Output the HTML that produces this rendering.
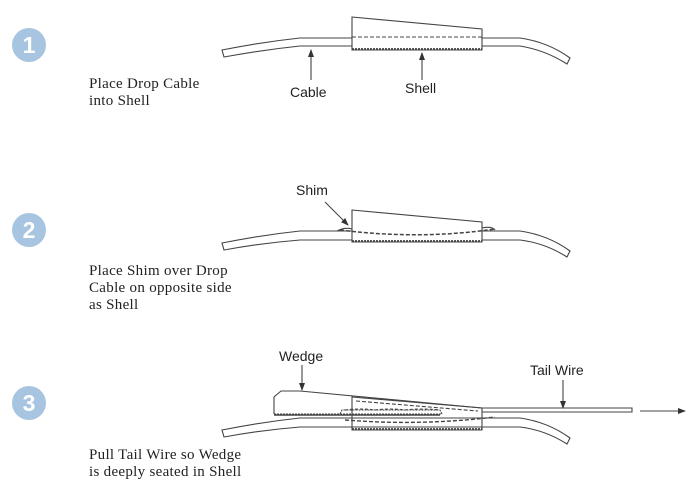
<!DOCTYPE html>
<html><head><meta charset="utf-8"><style>
body{margin:0;background:#fff;width:699px;height:491px;overflow:hidden}
svg{display:block}
text{stroke:none}
.s{font-family:"Liberation Serif",serif;font-size:15px;letter-spacing:0.3px;fill:#222}
.l{font-family:"Liberation Sans",sans-serif;font-size:14px;fill:#222}
.n{font-family:"Liberation Sans",sans-serif;font-size:23px;font-weight:bold;fill:#fff}
</style></head><body>
<svg width="699" height="491" viewBox="0 0 699 491" fill="none" stroke="#444" stroke-width="1.1">
<defs><marker id="a" markerWidth="8" markerHeight="8" refX="7" refY="4" orient="auto" markerUnits="userSpaceOnUse"><path d="M0,1 L8,4 L0,7z" fill="#333" stroke="none"/></marker></defs>
<g stroke="none" fill="#a7c4e0"><circle cx="29" cy="45" r="17"/><circle cx="29" cy="230" r="17"/><circle cx="29" cy="403" r="17"/></g>
<text class="n" x="29" y="53" text-anchor="middle">1</text>
<text class="n" x="29" y="238" text-anchor="middle">2</text>
<text class="n" x="29" y="411" text-anchor="middle">3</text>
<text class="s" x="89" y="88">Place Drop Cable</text><text class="s" x="89" y="105">into Shell</text>
<text class="s" x="89" y="275">Place Shim over Drop</text><text class="s" x="89" y="292">Cable on opposite side</text><text class="s" x="89" y="309">as Shell</text>
<text class="s" x="89" y="459">Pull Tail Wire so Wedge</text><text class="s" x="89" y="476">is deeply seated in Shell</text>

<path d="M222,50 Q262,42 300,38 L520,38 Q548,42 570,58 L567,64 Q545,50 520,46 L300,46 Q262,50 224,57 Z"/>
<path d="M352,17 L482,29 L482,50 L352,50 Z" fill="#fff"/>
<path d="M352,37 L482,37" stroke-dasharray="4,2"/>
<path d="M352,49 L482,49" stroke-dasharray="2,1" stroke-width="1.8"/>
<path d="M311,80 L311,50" marker-end="url(#a)"/>
<path d="M422,80 L422,53" marker-end="url(#a)"/>
<text class="l" x="290" y="97">Cable</text><text class="l" x="405" y="93">Shell</text>

<path d="M222,243 Q262,235 300,231 L520,231 Q548,235 570,251 L567,257 Q545,243 520,240 L300,240 Q262,243 224,250 Z"/>
<path d="M352,210 L482,222 L482,242 L352,242 Z" fill="#fff"/>
<path d="M352,241 L482,241" stroke-dasharray="2,1" stroke-width="1.8"/>
<path d="M340,230 Q420,240 495,229" stroke-dasharray="4,2" stroke-width="1.5"/>
<path d="M337,231 Q345,227 352,229 M482,228 Q492,226 495,230"/>
<path d="M325,202 L348,225" marker-end="url(#a)"/>
<text class="l" x="296" y="195">Shim</text>

<path d="M222,430 Q262,422 300,418 L520,418 Q548,422 570,438 L567,444 Q545,430 520,427 L300,427 Q262,430 224,437 Z"/>
<path d="M274,414 L274,397 L281,391 L300,391 L482,408" fill="#fff"/>
<path d="M274,414 L442,414 L440,410 L342,410 L340,414" stroke-dasharray="2,1"/>
<path d="M274,415 L440,415" stroke-width="1.5"/>
<path d="M352,397 L482,408 L482,430 L352,430 Z"/>
<path d="M356,401 L478,411" stroke-dasharray="4,2"/>
<path d="M352,429 L482,429" stroke-dasharray="2,1" stroke-width="1.8"/>
<path d="M345,420 Q420,426 495,417" stroke-dasharray="4,2" stroke-width="1.4"/>
<path d="M345,410 Q360,408 375,410 Q390,408 405,410 Q420,408 440,410" stroke-dasharray="3,2"/>
<path d="M482,408 L632,408 L632,412 L482,412"/>
<path d="M640,411 L685,411" marker-end="url(#a)"/>
<path d="M302,365 L302,390" marker-end="url(#a)"/>
<path d="M563,380 L563,408" marker-end="url(#a)"/>
<text class="l" x="279" y="361">Wedge</text><text class="l" x="530" y="375">Tail Wire</text>
</svg>
</body></html>
